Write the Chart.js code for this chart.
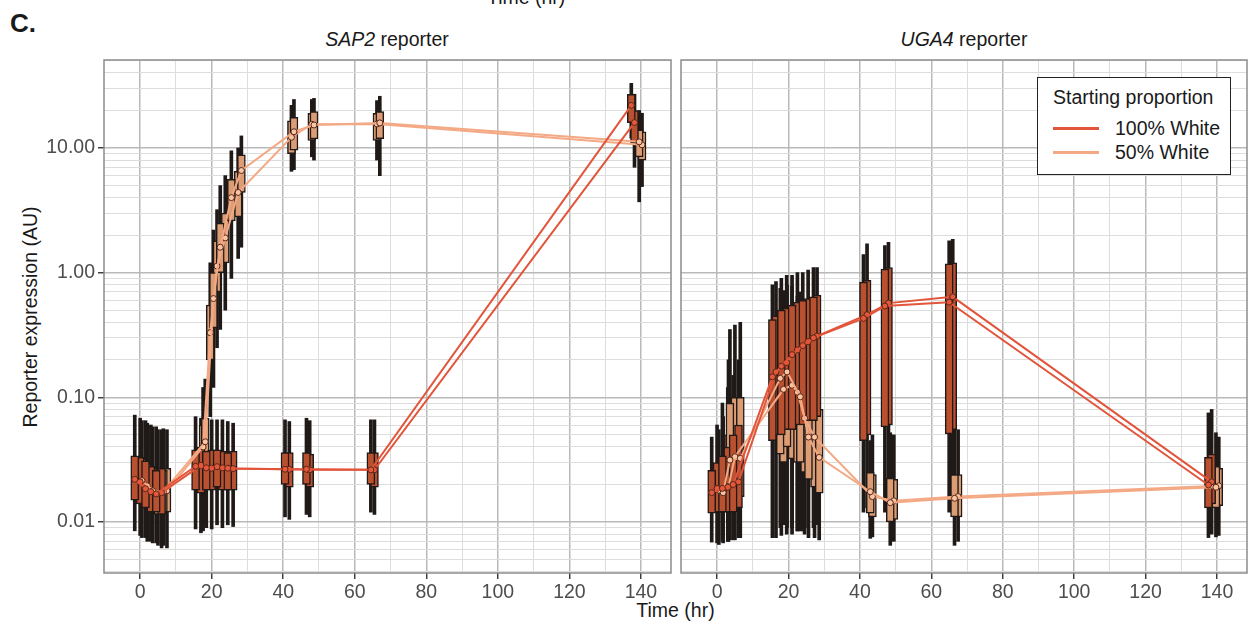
<!DOCTYPE html>
<html>
<head>
<meta charset="utf-8">
<script src="https://cdn.jsdelivr.net/npm/chart.js@4.4.1/dist/chart.umd.min.js"></script>
<style>
    body { margin: 0; background: #fff; width: 1248px; height: 626px; overflow: hidden; position: relative; font-family: "Liberation Sans", Arial, sans-serif; }
    canvas { position: absolute; top: 0; }
    #left { left: 0; }
    #right { left: 672px; }
    .txt { position: absolute; white-space: nowrap; color: #1a1a1a; font-size: 19.5px; line-height: 22px; }
    #legend { position: absolute; left: 1037px; top: 77px; width: 194px; height: 98px; box-sizing: border-box; border: 1.5px solid #222; background: #fff; }
    .key { position: absolute; left: 15px; width: 46px; height: 2.5px; }
</style>
</head>
<body>
<div class="txt" style="left:487px; top:-14px;">Time (hr)</div>
<div class="txt" style="left:10px; top:8px; font-size:26px; font-weight:bold; line-height:30px;">C.</div>
<div class="txt" style="left:0; width:774px; text-align:center; top:28px;"><i>SAP2</i> reporter</div>
<div class="txt" style="left:681px; width:566px; text-align:center; top:28px;"><i>UGA4</i> reporter</div>
<div class="txt" style="left:104px; width:1143px; text-align:center; top:599px;">Time (hr)</div>
<div class="txt" style="left:-90px; top:306px; width:240px; text-align:center; transform:rotate(-90deg);">Reporter expression (AU)</div>
<canvas id="left" width="676" height="626"></canvas>
<canvas id="right" width="580" height="626"></canvas>
<div id="legend">
    <div class="txt" style="left:15px; top:8px;">Starting proportion</div>
    <div class="key" style="top:49px; background:#e2553a;"></div>
    <div class="txt" style="left:77px; top:39px;">100% White</div>
    <div class="key" style="top:73px; background:#f4a985;"></div>
    <div class="txt" style="left:77px; top:63px;">50% White</div>
</div>
<script>
// axes
const xMin = -10.1, xMax = 148.4;
const xGridValues = [0, 10, 20, 30, 40, 50, 60, 70, 80, 90, 100, 110, 120, 130, 140];
const xLabelValues = [0, 20, 40, 60, 80, 100, 120, 140];
const yMin = 0.0039, yMax = 50.8;
const yGridValues = [0.004, 0.005, 0.006, 0.007, 0.008, 0.009,
    0.01, 0.02, 0.03, 0.04, 0.05, 0.06, 0.07, 0.08, 0.09,
    0.1, 0.2, 0.3, 0.4, 0.5, 0.6, 0.7, 0.8, 0.9,
    1, 2, 3, 4, 5, 6, 7, 8, 9,
    10, 20, 30, 40, 50];
const yLabelValues = [0.01, 0.1, 1, 10];
const yLabelText = ['0.01', '0.10', '1.00', '10.00'];

// SAP2 reporter, 100% White (two replicates)
const sapRedATime = [-1.5, 1.5, 4.5, 15.5, 18.5, 21.5, 24.5, 40.5, 46.5, 64.5, 137.3];
const sapRedAMed = [0.022, 0.0185, 0.0168, 0.028, 0.0272, 0.0278, 0.027, 0.0265, 0.0265, 0.0262, 22];
const sapRedAQ1 = [0.015, 0.013, 0.012, 0.018, 0.018, 0.019, 0.018, 0.02, 0.02, 0.02, 16];
const sapRedAQ3 = [0.034, 0.031, 0.026, 0.038, 0.037, 0.038, 0.036, 0.036, 0.036, 0.036, 27];
const sapRedALo = [0.0085, 0.0075, 0.0068, 0.0088, 0.009, 0.0095, 0.0095, 0.011, 0.0115, 0.012, 12];
const sapRedAHi = [0.072, 0.065, 0.058, 0.07, 0.068, 0.066, 0.064, 0.066, 0.068, 0.066, 33];

const sapRedBTime = [0, 3, 6, 17, 20, 23, 26, 41.7, 47.4, 65.5, 138.2];
const sapRedBMed = [0.021, 0.0175, 0.0172, 0.0285, 0.027, 0.0272, 0.0268, 0.0265, 0.0262, 0.0262, 16];
const sapRedBQ1 = [0.014, 0.012, 0.0115, 0.017, 0.018, 0.018, 0.018, 0.019, 0.019, 0.019, 11];
const sapRedBQ3 = [0.033, 0.028, 0.027, 0.04, 0.038, 0.037, 0.037, 0.036, 0.035, 0.036, 20];
const sapRedBLo = [0.0078, 0.007, 0.0062, 0.0082, 0.0088, 0.009, 0.0092, 0.0105, 0.011, 0.0115, 7];
const sapRedBHi = [0.068, 0.06, 0.055, 0.068, 0.066, 0.066, 0.062, 0.064, 0.065, 0.066, 27];

// SAP2 reporter, 50% White
const sapLtATime = [0.5, 3.5, 6.5, 18.2, 20.5, 22.4, 25.5, 28.3, 43, 48.6, 67, 139.5];
const sapLtAMed = [0.0215, 0.0178, 0.0175, 0.044, 0.62, 1.6, 4.0, 6.6, 13.5, 15.3, 15.9, 11.2];
const sapLtAQ1 = [0.014, 0.012, 0.012, 0.028, 0.36, 1.0, 2.6, 4.4, 9.6, 11.8, 11.9, 8.5];
const sapLtAQ3 = [0.032, 0.027, 0.026, 0.068, 1.0, 2.5, 5.6, 8.8, 17.6, 19.6, 19.6, 14];
const sapLtALo = [0.0075, 0.0068, 0.0065, 0.0095, 0.12, 0.35, 0.9, 1.6, 6.7, 8.0, 6.0, 3.7];
const sapLtAHi = [0.065, 0.058, 0.056, 0.14, 2.2, 5.0, 9.5, 12.5, 24.5, 25, 26, 20];

const sapLtBTime = [2, 5, 7.5, 17.6, 19.6, 21.5, 23.8, 27.4, 42.3, 48, 66.2, 140.3];
const sapLtBMed = [0.0195, 0.017, 0.0178, 0.04, 0.33, 1.13, 1.9, 4.4, 12.2, 15.5, 15.6, 10.6];
const sapLtBQ1 = [0.013, 0.0115, 0.012, 0.025, 0.2, 0.7, 1.2, 2.8, 9.0, 11.5, 11.5, 8.0];
const sapLtBQ3 = [0.029, 0.026, 0.027, 0.06, 0.55, 1.8, 3.0, 6.5, 16.5, 19, 19, 13.5];
const sapLtBLo = [0.007, 0.0065, 0.0062, 0.0085, 0.07, 0.25, 0.5, 1.3, 6.5, 8.5, 8.0, 4.9];
const sapLtBHi = [0.062, 0.055, 0.055, 0.12, 1.2, 3.2, 6.0, 10, 22, 24.5, 24, 19];

// UGA4 reporter, 100% White
const ugaRedATime = [-1.5, 1.5, 4.5, 15.5, 18, 21, 24, 27, 41, 47, 65, 137.6];
const ugaRedAMed = [0.0172, 0.0186, 0.02, 0.146, 0.178, 0.22, 0.26, 0.3, 0.43, 0.54, 0.58, 0.0198];
const ugaRedAQ1 = [0.0118, 0.012, 0.012, 0.045, 0.05, 0.055, 0.06, 0.065, 0.045, 0.058, 0.051, 0.013];
const ugaRedAQ3 = [0.026, 0.034, 0.05, 0.42, 0.5, 0.55, 0.6, 0.64, 0.84, 1.07, 1.18, 0.033];
const ugaRedALo = [0.0069, 0.007, 0.0072, 0.0075, 0.0078, 0.008, 0.0085, 0.009, 0.012, 0.012, 0.012, 0.0075];
const ugaRedAHi = [0.048, 0.09, 0.15, 0.8, 0.9, 0.95, 1.0, 1.1, 1.4, 1.65, 1.8, 0.075];

const ugaRedBTime = [0, 3, 6, 16.5, 19.5, 22.5, 25.5, 28, 42, 48, 66, 138.5];
const ugaRedBMed = [0.0186, 0.019, 0.021, 0.16, 0.19, 0.24, 0.28, 0.31, 0.46, 0.57, 0.64, 0.021];
const ugaRedBQ1 = [0.012, 0.012, 0.013, 0.05, 0.055, 0.06, 0.065, 0.07, 0.05, 0.06, 0.055, 0.014];
const ugaRedBQ3 = [0.03, 0.04, 0.06, 0.45, 0.52, 0.58, 0.62, 0.66, 0.87, 1.1, 1.2, 0.035];
const ugaRedBLo = [0.0068, 0.007, 0.0075, 0.0075, 0.008, 0.0085, 0.009, 0.0095, 0.013, 0.013, 0.013, 0.008];
const ugaRedBHi = [0.06, 0.12, 0.2, 0.85, 0.95, 1.0, 1.05, 1.1, 1.7, 1.75, 1.85, 0.08];

// UGA4 reporter, 50% White
const ugaLtATime = [1.7, 3.6, 6.5, 17.7, 19.6, 23.3, 25.6, 28.6, 42.9, 48.5, 66.5, 139.7];
const ugaLtAMed = [0.0172, 0.0314, 0.0324, 0.142, 0.16, 0.101, 0.048, 0.033, 0.0175, 0.0143, 0.0155, 0.019];
const ugaLtAQ1 = [0.012, 0.016, 0.016, 0.035, 0.04, 0.03, 0.022, 0.017, 0.0118, 0.01, 0.011, 0.013];
const ugaLtAQ3 = [0.03, 0.09, 0.1, 0.38, 0.4, 0.3, 0.15, 0.08, 0.025, 0.0225, 0.024, 0.028];
const ugaLtALo = [0.0068, 0.0072, 0.0075, 0.009, 0.009, 0.0085, 0.0075, 0.0072, 0.0074, 0.0065, 0.0065, 0.0076];
const ugaLtAHi = [0.07, 0.35, 0.4, 0.75, 0.8, 0.7, 0.4, 0.2, 0.045, 0.052, 0.058, 0.052];

const ugaLtBTime = [0.5, 3.2, 5, 18.6, 21, 22.5, 24.5, 27.3, 43.5, 49.5, 67.5, 140.5];
const ugaLtBMed = [0.018, 0.0192, 0.0334, 0.116, 0.125, 0.11, 0.068, 0.048, 0.016, 0.0148, 0.016, 0.0195];
const ugaLtBQ1 = [0.012, 0.013, 0.016, 0.03, 0.032, 0.03, 0.025, 0.019, 0.011, 0.0105, 0.011, 0.0135];
const ugaLtBQ3 = [0.028, 0.05, 0.1, 0.33, 0.35, 0.3, 0.2, 0.12, 0.024, 0.022, 0.024, 0.027];
const ugaLtBLo = [0.0066, 0.007, 0.0072, 0.0095, 0.009, 0.0085, 0.008, 0.0075, 0.0076, 0.007, 0.007, 0.0078];
const ugaLtBHi = [0.055, 0.2, 0.38, 0.72, 0.78, 0.65, 0.5, 0.3, 0.05, 0.05, 0.055, 0.048];

const redLine = '#e2553a', redBox = '#b9502f', redPoint = '#e4593b';
const lightLine = '#f4a985', lightBox = '#dc9c74', lightPoint = '#f8c6a4';
const dark = '#1f1a18';
const tickFont = { family: '"Liberation Sans", Arial, sans-serif', size: 19.5 };

// whisker bar, box bar and median line for one replicate
function seriesDatasets(time, med, q1, q3, lo, hi, lineColor, boxColor, pointFill) {
    return [
        {
            type: 'bar', order: 3, stack: 'box',
            data: time.map((t, i) => ({ x: t, y: [lo[i], hi[i]] })),
            backgroundColor: dark, borderWidth: 0, barThickness: 3
        },
        {
            type: 'bar', order: 2, stack: 'box',
            data: time.map((t, i) => ({ x: t, y: [q1[i], q3[i]] })),
            backgroundColor: boxColor, borderColor: dark, borderWidth: 1.5, borderSkipped: false, barThickness: 8
        },
        {
            type: 'line', order: 1,
            data: time.map((t, i) => ({ x: t, y: med[i] })),
            borderColor: lineColor, borderWidth: 2, tension: 0,
            pointRadius: 3, pointBackgroundColor: pointFill, pointBorderColor: '#5a2618', pointBorderWidth: 1
        }
    ];
}

function isMajorY(v) {
    return yLabelValues.some(m => Math.abs(m - v) / m < 1e-6);
}

function xScale() {
    return {
        type: 'linear', min: xMin, max: xMax, offset: false,
        afterBuildTicks: s => { s.ticks = xGridValues.map(v => ({ value: v })); },
        afterFit: s => { s.height = 53; },
        ticks: {
            autoSkip: false, maxRotation: 0, font: tickFont, color: '#4d4d4d', padding: 2,
            callback: v => xLabelValues.includes(v) ? String(v) : ''
        },
        grid: {
            offset: false,
            color: ctx => xLabelValues.includes(ctx.tick.value) ? '#b9b9b9' : '#dddddd',
            lineWidth: ctx => xLabelValues.includes(ctx.tick.value) ? 1.5 : 1,
            tickLength: 6, tickWidth: 1.4,
            tickColor: ctx => xLabelValues.includes(ctx.tick.value) ? '#333' : 'rgba(0,0,0,0)'
        },
        border: { display: false }
    };
}

function yScale(showLabels) {
    return {
        type: 'logarithmic', min: yMin, max: yMax, stacked: false,
        afterBuildTicks: s => { s.ticks = yGridValues.map(v => ({ value: v })); },
        afterFit: s => { s.width = showLabels ? 104 : 9; },
        ticks: {
            display: showLabels, autoSkip: false, font: tickFont, color: '#4d4d4d', padding: 3,
            callback: v => {
                const i = yLabelValues.findIndex(m => Math.abs(m - v) / m < 1e-6);
                return i >= 0 ? yLabelText[i] : '';
            }
        },
        grid: {
            color: ctx => isMajorY(ctx.tick.value) ? '#b9b9b9' : '#dddddd',
            lineWidth: ctx => isMajorY(ctx.tick.value) ? 1.5 : 1,
            drawTicks: showLabels, tickLength: 6, tickWidth: 1.4,
            tickColor: ctx => isMajorY(ctx.tick.value) ? '#333' : 'rgba(0,0,0,0)'
        },
        border: { display: false }
    };
}

const panelBorder = {
    id: 'panelBorder',
    afterDatasetsDraw(chart) {
        const a = chart.chartArea;
        const c = chart.ctx;
        c.save();
        c.strokeStyle = '#8c8c8c';
        c.lineWidth = 1.5;
        c.strokeRect(a.left, a.top, a.right - a.left, a.bottom - a.top);
        c.restore();
    }
};

function panelConfig(datasets, showLabels, rightPad) {
    return {
        type: 'bar',
        data: { datasets },
        options: {
            responsive: false, animation: false, devicePixelRatio: 1,
            layout: { padding: { top: 60, right: rightPad, left: 0, bottom: 0 } },
            plugins: { legend: { display: false }, tooltip: { enabled: false } },
            scales: { x: xScale(), y: yScale(showLabels) }
        },
        plugins: [panelBorder]
    };
}

const sapDatasets = [].concat(
    seriesDatasets(sapRedATime, sapRedAMed, sapRedAQ1, sapRedAQ3, sapRedALo, sapRedAHi, redLine, redBox, redPoint),
    seriesDatasets(sapRedBTime, sapRedBMed, sapRedBQ1, sapRedBQ3, sapRedBLo, sapRedBHi, redLine, redBox, redPoint),
    seriesDatasets(sapLtATime, sapLtAMed, sapLtAQ1, sapLtAQ3, sapLtALo, sapLtAHi, lightLine, lightBox, lightPoint),
    seriesDatasets(sapLtBTime, sapLtBMed, sapLtBQ1, sapLtBQ3, sapLtBLo, sapLtBHi, lightLine, lightBox, lightPoint)
);

const ugaDatasets = [].concat(
    seriesDatasets(ugaRedATime, ugaRedAMed, ugaRedAQ1, ugaRedAQ3, ugaRedALo, ugaRedAHi, redLine, redBox, redPoint),
    seriesDatasets(ugaRedBTime, ugaRedBMed, ugaRedBQ1, ugaRedBQ3, ugaRedBLo, ugaRedBHi, redLine, redBox, redPoint),
    seriesDatasets(ugaLtATime, ugaLtAMed, ugaLtAQ1, ugaLtAQ3, ugaLtALo, ugaLtAHi, lightLine, lightBox, lightPoint),
    seriesDatasets(ugaLtBTime, ugaLtBMed, ugaLtBQ1, ugaLtBQ3, ugaLtBLo, ugaLtBHi, lightLine, lightBox, lightPoint)
);

new Chart(document.getElementById('left'), panelConfig(sapDatasets, true, 2));
new Chart(document.getElementById('right'), panelConfig(ugaDatasets, false, 1));
</script>
</body>
</html>
